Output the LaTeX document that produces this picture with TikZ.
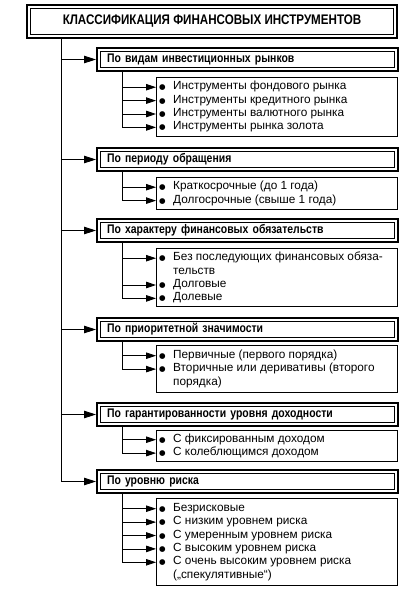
\documentclass[tikz,border=0pt]{standalone}
\usepackage{fontspec}
\setmainfont{Liberation Sans}
\newfontfamily\headfont[FakeStretch=0.835]{Liberation Sans}
\newfontfamily\symfont{DejaVu Sans}
\usetikzlibrary{positioning, arrows.meta}

\newcommand{\bodysize}{\fontsize{11.8}{13}\selectfont}
\newcommand{\bul}{\makebox[14pt][l]{\symfont\fontsize{7.5}{7.5}\selectfont ●}}

\begin{document}
\begin{tikzpicture}[
    x=1pt, y=1pt,
    font=\bodysize,
    frame/.style={draw, line width=2pt,
        path picture={\draw[line width=0.7pt]
            ([shift={(3.5pt,-3.5pt)}]path picture bounding box.north west) rectangle
            ([shift={(-3.5pt,3.5pt)}]path picture bounding box.south east);}},
    headbox/.style={frame, line width=2.2pt, minimum width=370pt, minimum height=33pt,
        font=\headfont\bfseries\fontsize{13.9}{16}\selectfont},
    catbox/.style={frame, anchor=north west, minimum height=23pt, text width=281pt,
        inner xsep=10pt, inner ysep=0pt, align=left,
        font=\headfont\bfseries\fontsize{12.5}{14}\selectfont},
    subbox/.style={draw, line width=0.9pt, minimum width=241pt, inner sep=0pt},
    item/.style={inner sep=0pt, text height=9pt, text depth=4pt},
    arrow/.style={-{Triangle[length=10pt, width=6.5pt]}, line width=0.8pt},
    bigarrow/.style={-{Triangle[length=12pt, width=7.5pt]}, line width=0.8pt},
]
\useasboundingbox (0,0) rectangle (406,-590);

% --- TITLE ---
\node[headbox] (title) at (212,-21.5) {КЛАССИФИКАЦИЯ ФИНАНСОВЫХ ИНСТРУМЕНТОВ};

% --- 1: investment markets ---
\node[catbox] (c1) at (96,-47) {По видам инвестиционных рынков};
\node[subbox, minimum height=59pt, below=4.5pt of c1.south west, anchor=north west, xshift=60pt] (s1) {};
\node[item, anchor=north west] (s1a) at ([shift={(3pt,-4pt)}]s1.north west) {\bul Инструменты фондового рынка};
\node[item, below=0pt of s1a.south west, anchor=north west] (s1b) {\bul Инструменты кредитного рынка};
\node[item, below=0pt of s1b.south west, anchor=north west] (s1c) {\bul Инструменты валютного рынка};
\node[item, below=0pt of s1c.south west, anchor=north west] (s1d) {\bul Инструменты рынка золота};

% --- 2: circulation period ---
\node[catbox] (c2) at (96,-147) {По периоду обращения};
\node[subbox, minimum height=32pt, below=4.5pt of c2.south west, anchor=north west, xshift=60pt] (s2) {};
\node[item, anchor=north west] (s2a) at ([shift={(3pt,-4pt)}]s2.north west) {\bul Краткосрочные (до 1 года)};
\node[item, below=0pt of s2a.south west, anchor=north west] (s2b) {\bul Долгосрочные (свыше 1 года)};

% --- 3: financial obligations ---
\node[catbox] (c3) at (96,-218) {По характеру финансовых обязательств};
\node[subbox, minimum height=58pt, below=4.5pt of c3.south west, anchor=north west, xshift=60pt] (s3) {};
\node[item, anchor=north west] (s3a) at ([shift={(3pt,-4pt)}]s3.north west) {\bul Без последующих финансовых обяза-};
\node[item, below=0pt of s3a.south west, anchor=north west] (s3a2) {\hspace*{14pt}тельств};
\node[item, below=0pt of s3a2.south west, anchor=north west] (s3b) {\bul Долговые};
\node[item, below=0pt of s3b.south west, anchor=north west] (s3c) {\bul Долевые};

% --- 4: priority ---
\node[catbox] (c4) at (96,-317) {По приоритетной значимости};
\node[subbox, minimum height=47pt, below=3pt of c4.south west, anchor=north west, xshift=60pt] (s4) {};
\node[item, anchor=north west] (s4a) at ([shift={(3pt,-4pt)}]s4.north west) {\bul Первичные (первого порядка)};
\node[item, below=0pt of s4a.south west, anchor=north west] (s4b) {\bul Вторичные или деривативы (второго};
\node[item, below=0pt of s4b.south west, anchor=north west] (s4b2) {\hspace*{14pt}порядка)};

% --- 5: guaranteed income ---
\node[catbox] (c5) at (96,-402) {По гарантированности уровня доходности};
\node[subbox, minimum height=31pt, below=3pt of c5.south west, anchor=north west, xshift=60pt] (s5) {};
\node[item, anchor=north west] (s5a) at ([shift={(3pt,-3pt)}]s5.north west) {\bul С фиксированным доходом};
\node[item, below=0pt of s5a.south west, anchor=north west] (s5b) {\bul С колеблющимся доходом};

% --- 6: risk level ---
\node[catbox] (c6) at (96,-469) {По уровню риска};
\node[subbox, minimum height=87pt, below=4pt of c6.south west, anchor=north west, xshift=60pt] (s6) {};
\node[item, anchor=north west] (s6a) at ([shift={(3pt,-4pt)}]s6.north west) {\bul Безрисковые};
\node[item, below=0pt of s6a.south west, anchor=north west] (s6b) {\bul С низким уровнем риска};
\node[item, below=0pt of s6b.south west, anchor=north west] (s6c) {\bul С умеренным уровнем риска};
\node[item, below=0pt of s6c.south west, anchor=north west] (s6d) {\bul С высоким уровнем риска};
\node[item, below=0pt of s6d.south west, anchor=north west] (s6e) {\bul С очень высоким уровнем риска};
\node[item, below=0pt of s6e.south west, anchor=north west] (s6e2) {\hspace*{14pt}(„спекулятивные“)};

% Main trunk from the title to every group
\coordinate (trunk) at ([xshift=35pt]title.south west);
\foreach \c in {c1,c2,c3,c4,c5}
    \draw[bigarrow] (trunk |- \c.west) -- (\c.west);
\draw[bigarrow] (trunk) |- (c6.west);

% Branches from each group to its items
\foreach \c/\s/\last/\rest in {c1/s1/s1d/{s1a,s1b,s1c}, c2/s2/s2b/{s2a}, c3/s3/s3c/{s3a,s3b},
                               c4/s4/s4b/{s4a}, c5/s5/s5b/{s5a}, c6/s6/s6e/{s6a,s6b,s6c,s6d}} {
    \coordinate (b\c) at ([xshift=26pt]\c.south west);
    \draw[arrow] (b\c) |- (\s.west |- \last.west);
    \foreach \t in \rest
        \draw[arrow] (b\c |- \t.west) -- (\s.west |- \t.west);
}

\end{tikzpicture}
\end{document}
